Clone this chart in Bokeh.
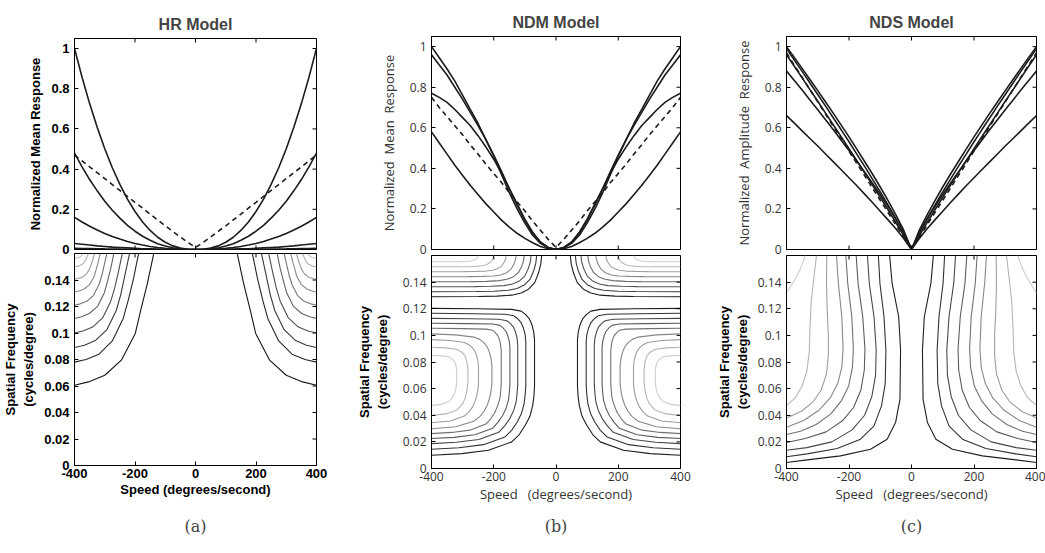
import math
from bokeh.plotting import figure
from bokeh.layouts import row, column
from bokeh.models import Range1d, FixedTicker, ColumnDataSource
from bokeh.embed import file_html
from bokeh.resources import INLINE

# ------------------------------------------------------------------ DATA
# Top row: normalised response vs speed (curves are symmetric about 0; values for speed >= 0)
speed_half = [0, 25, 50, 75, 100, 125, 150, 175, 200, 225, 250, 275, 300, 325, 350, 375, 400]

hr_resp_1 = [0, 0.0013, 0.0068, 0.018, 0.036, 0.061, 0.095, 0.137, 0.189, 0.251, 0.324, 0.407, 0.501, 0.608, 0.726, 0.857, 1.0]
hr_resp_2 = [0, 0.001, 0.003, 0.009, 0.017, 0.029, 0.046, 0.066, 0.091, 0.12, 0.156, 0.195, 0.24, 0.292, 0.348, 0.411, 0.48]
hr_resp_3 = [0, 0, 0.001, 0.003, 0.006, 0.01, 0.015, 0.022, 0.03, 0.04, 0.052, 0.065, 0.08, 0.097, 0.116, 0.137, 0.16]
hr_resp_4 = [0, 0, 0, 0.001, 0.001, 0.002, 0.003, 0.004, 0.006, 0.008, 0.01, 0.012, 0.015, 0.018, 0.022, 0.026, 0.03]
hr_resp_5 = [0, 0, 0, 0, 0, 0, 0.001, 0.001, 0.001, 0.0015, 0.002, 0.0025, 0.003, 0.0036, 0.0044, 0.005, 0.006]
hr_resp_dash = [0.01, 0.035, 0.062, 0.09, 0.118, 0.147, 0.176, 0.206, 0.235, 0.264, 0.294, 0.323, 0.353, 0.382, 0.411, 0.441, 0.47]

ndm_resp_1 = [0, 0.008, 0.03, 0.07, 0.13, 0.2, 0.28, 0.37, 0.46, 0.54, 0.62, 0.69, 0.76, 0.83, 0.89, 0.945, 1.0]
ndm_resp_2 = [0, 0.01, 0.035, 0.08, 0.145, 0.22, 0.3, 0.385, 0.465, 0.54, 0.61, 0.675, 0.74, 0.8, 0.86, 0.91, 0.96]
ndm_resp_3 = [0, 0.01, 0.037, 0.085, 0.15, 0.225, 0.3, 0.375, 0.445, 0.505, 0.56, 0.61, 0.65, 0.69, 0.725, 0.75, 0.77]
ndm_resp_4 = [0, 0.004, 0.015, 0.033, 0.055, 0.08, 0.11, 0.145, 0.185, 0.225, 0.27, 0.315, 0.365, 0.415, 0.47, 0.525, 0.58]
ndm_resp_dash = [0.01, 0.05, 0.095, 0.14, 0.19, 0.235, 0.28, 0.33, 0.375, 0.42, 0.47, 0.515, 0.565, 0.61, 0.655, 0.70, 0.75]

nds_resp_1 = [0, 0.095, 0.171, 0.241, 0.308, 0.372, 0.434, 0.495, 0.555, 0.613, 0.671, 0.727, 0.783, 0.838, 0.893, 0.947, 1.0]
nds_resp_2 = [0, 0.082, 0.152, 0.219, 0.284, 0.347, 0.41, 0.47, 0.531, 0.59, 0.648, 0.707, 0.764, 0.821, 0.878, 0.934, 0.99]
nds_resp_3 = [0, 0.069, 0.133, 0.196, 0.257, 0.318, 0.378, 0.438, 0.497, 0.556, 0.614, 0.672, 0.731, 0.788, 0.846, 0.903, 0.96]
nds_resp_4 = [0, 0.084, 0.150, 0.212, 0.271, 0.327, 0.382, 0.436, 0.488, 0.539, 0.590, 0.640, 0.689, 0.737, 0.786, 0.833, 0.88]
nds_resp_5 = [0, 0.054, 0.102, 0.146, 0.189, 0.232, 0.273, 0.314, 0.354, 0.393, 0.432, 0.471, 0.51, 0.547, 0.585, 0.623, 0.66]
nds_resp_dash = [0.01, 0.061, 0.121, 0.182, 0.243, 0.303, 0.364, 0.424, 0.485, 0.546, 0.606, 0.667, 0.728, 0.788, 0.849, 0.909, 0.97]

# Bottom row: iso-response contours (left half, speed < 0; mirrored for speed > 0)
hr_contours = [
    ([-138, -159, -181, -199, -245, -300, -354, -400], [0.16, 0.1375, 0.1173, 0.0997, 0.0795, 0.0681, 0.0631, 0.0606]),
    ([-188, -205, -222, -239, -275, -319, -362, -400], [0.16, 0.141, 0.125, 0.111, 0.094, 0.084, 0.080, 0.078]),
    ([-218, -233, -247, -262, -293, -331, -367, -400], [0.16, 0.144, 0.129, 0.117, 0.1025, 0.0943, 0.0907, 0.089]),
    ([-242, -255, -267, -280, -307, -340, -372, -400], [0.16, 0.146, 0.134, 0.124, 0.1114, 0.1045, 0.1015, 0.100]),
    ([-270, -280, -291, -301, -323, -351, -377, -400], [0.16, 0.1487, 0.139, 0.1306, 0.1203, 0.1147, 0.1122, 0.111]),
    ([-293, -302, -310, -319, -337, -359, -381, -400], [0.16, 0.151, 0.1432, 0.1366, 0.1284, 0.1239, 0.122, 0.121]),
    ([-315, -322, -329, -335, -350, -368, -385, -400], [0.16, 0.1533, 0.1475, 0.1426, 0.1365, 0.1332, 0.1317, 0.131]),
    ([-334, -339, -345, -350, -361, -375, -388, -400], [0.16, 0.1555, 0.1517, 0.1484, 0.1443, 0.1421, 0.1411, 0.1406]),
    ([-354, -358, -365, -373, -386, -400], [0.16, 0.1577, 0.154, 0.152, 0.1505, 0.150]),
    ([-372, -376, -383, -392, -400], [0.16, 0.1585, 0.1572, 0.1567, 0.1565]),
]
hr_colors = ["#151515", "#262626", "#383838", "#4c4c4c", "#606060", "#747474", "#888888", "#9c9c9c", "#b0b0b0", "#c6c6c6"]

ndm_upper_contours = [
    ([-46, -49, -56, -68, -88, -112, -142, -190, -250, -400], [0.16, 0.1535, 0.147, 0.1398, 0.1347, 0.1318, 0.1302, 0.1295, 0.1292, 0.129]),
    ([-62, -64.9, -71.5, -83, -102, -125, -153.6, -199.6, -256.7, -400], [0.16, 0.1543, 0.1486, 0.1423, 0.1378, 0.1352, 0.1339, 0.1332, 0.1330, 0.1328]),
    ([-80, -82.7, -89, -99.8, -118, -139.5, -166.7, -210, -264, -400], [0.16, 0.1551, 0.1502, 0.1447, 0.1408, 0.1386, 0.1374, 0.1369, 0.1366, 0.1365]),
    ([-102, -104.5, -110.3, -120.5, -137.5, -157.4, -182.8, -223.3, -273.6, -400], [0.16, 0.1559, 0.1517, 0.1472, 0.1439, 0.1421, 0.1411, 0.1406, 0.1404, 0.1403]),
    ([-128, -130.3, -135.6, -144.9, -160.4, -178.6, -201.7, -238.7, -284.7, -400], [0.16, 0.1566, 0.1533, 0.1496, 0.1469, 0.1454, 0.1446, 0.1443, 0.1441, 0.144]),
    ([-160, -162, -166.7, -174.9, -188.6, -204.6, -225, -257.7, -298.2, -400], [0.16, 0.1574, 0.1549, 0.152, 0.15, 0.1489, 0.1483, 0.148, 0.1479, 0.1478]),
    ([-200, -201.7, -205.6, -212.4, -223.8, -237.2, -254.2, -281.4, -315.2, -400], [0.16, 0.1582, 0.1564, 0.1545, 0.1531, 0.1523, 0.1518, 0.1516, 0.1515, 0.1515]),
    ([-250, -251.3, -254.2, -259.3, -267.9, -277.9, -290.7, -311.1, -336.4, -400], [0.16, 0.159, 0.158, 0.1569, 0.1562, 0.1557, 0.1555, 0.1554, 0.1553, 0.1553]),
]
ndm_upper_colors = ["#1e1e1e", "#3c3c3c", "#555555", "#6e6e6e", "#878787", "#a0a0a0", "#b9b9b9", "#d0d0d0"]

ndm_lower_contours = [
    ([-400, -250, -142, -112, -99, -86, -78, -72, -69, -69, -71, -75, -84, -99, -118, -142, -217, -303, -400],
     [0.1203, 0.120, 0.1195, 0.1182, 0.116, 0.1125, 0.1085, 0.103, 0.097, 0.062, 0.054, 0.047, 0.039, 0.0325, 0.0255, 0.020, 0.0137, 0.0112, 0.010]),
    ([-400, -264, -164, -136, -124, -112, -105, -99, -97, -97, -99, -102.5, -111, -124, -142, -164, -233, -312, -400],
     [0.1166, 0.1163, 0.1159, 0.1148, 0.1127, 0.1095, 0.1058, 0.1005, 0.0950, 0.0626, 0.0555, 0.0486, 0.0414, 0.0351, 0.0288, 0.0237, 0.0179, 0.0156, 0.0145]),
    ([-400, -275, -184, -158, -148, -137, -130.5, -125, -123, -123, -125, -128, -136, -148, -165, -184, -248, -320, -400],
     [0.1128, 0.1125, 0.1121, 0.1110, 0.1092, 0.1063, 0.1028, 0.0980, 0.0928, 0.0630, 0.0565, 0.0501, 0.0436, 0.0377, 0.0320, 0.0272, 0.0218, 0.0197, 0.0187]),
    ([-400, -287, -203, -180, -171, -161, -155, -150, -148, -148, -150, -152.5, -160, -171, -186, -203, -261, -327, -400],
     [0.1091, 0.1088, 0.1085, 0.1075, 0.1058, 0.1031, 0.0999, 0.0955, 0.0908, 0.0634, 0.0575, 0.0515, 0.0455, 0.0400, 0.0348, 0.0303, 0.0254, 0.0234, 0.0225]),
    ([-400, -299, -225, -204, -196, -187, -182, -178, -176, -176, -177.5, -180, -187, -196, -209, -225, -277, -335, -400],
     [0.1053, 0.1051, 0.1047, 0.1038, 0.1023, 0.0998, 0.0970, 0.0930, 0.0886, 0.0637, 0.0583, 0.0528, 0.0474, 0.0423, 0.0375, 0.0334, 0.0288, 0.0271, 0.0262]),
    ([-400, -322, -264, -245, -231, -221, -214, -209, -206, -206, -209, -214, -221, -231, -245, -264, -322, -400],
     [0.1011, 0.1004, 0.0987, 0.0970, 0.0944, 0.0913, 0.0876, 0.0828, 0.0775, 0.0636, 0.0578, 0.0524, 0.0475, 0.0430, 0.0390, 0.0355, 0.0314, 0.0299]),
    ([-400, -340, -294, -280, -269, -261, -255, -251, -249, -249, -251, -255, -261, -269, -280, -294, -340, -400],
     [0.0968, 0.0962, 0.0947, 0.0930, 0.0909, 0.0882, 0.0850, 0.0808, 0.0762, 0.0641, 0.0590, 0.0542, 0.0498, 0.0459, 0.0425, 0.0394, 0.0357, 0.0344]),
    ([-400, -353, -318, -307, -298, -292, -288, -285, -283, -283, -285, -288, -292, -298, -307, -318, -353, -400],
     [0.0911, 0.0906, 0.0894, 0.0881, 0.0864, 0.0842, 0.0816, 0.0782, 0.0745, 0.0646, 0.0604, 0.0564, 0.0528, 0.0495, 0.0466, 0.0440, 0.0410, 0.0399]),
    ([-400, -368, -343, -336, -330, -325, -322, -320, -319, -319, -320, -322, -325, -330, -336, -343, -368, -400],
     [0.0849, 0.0846, 0.0837, 0.0827, 0.0814, 0.0798, 0.0779, 0.0754, 0.0727, 0.0654, 0.0624, 0.0594, 0.0568, 0.0544, 0.0523, 0.0504, 0.0482, 0.0474]),
]
ndm_lower_colors = ["#1e1e1e", "#333333", "#474747", "#5c5c5c", "#717171", "#878787", "#9d9d9d", "#b5b5b5", "#cdcdcd"]

nds_contours = [
    ([-70, -62, -41, -35, -37, -51, -78, -131, -227, -334, -400], [0.16, 0.139, 0.114, 0.089, 0.052, 0.0345, 0.022, 0.0145, 0.0095, 0.0065, 0.0045]),
    ([-106, -101, -88, -82, -84, -96, -120, -163, -238, -334, -400], [0.16, 0.139, 0.114, 0.089, 0.064, 0.047, 0.032, 0.022, 0.015, 0.011, 0.0088]),
    ([-141, -135, -120, -113, -115, -127, -150, -190, -255, -335, -400], [0.16, 0.139, 0.114, 0.089, 0.07, 0.054, 0.040, 0.029, 0.020, 0.0157, 0.0137]),
    ([-177, -171, -156, -149, -151, -162, -185, -220, -273, -340, -400], [0.16, 0.139, 0.114, 0.09, 0.074, 0.059, 0.046, 0.036, 0.0275, 0.0225, 0.0195]),
    ([-210, -204, -191, -186, -189, -201, -224, -258, -305, -355, -400], [0.16, 0.139, 0.114, 0.09, 0.076, 0.062, 0.051, 0.041, 0.033, 0.028, 0.0255]),
    ([-240, -234, -223, -219, -223, -236, -260, -295, -345, -400], [0.16, 0.139, 0.114, 0.09, 0.076, 0.064, 0.053, 0.044, 0.036, 0.031]),
    ([-271, -272, -270, -266, -266, -272, -289, -315, -352, -400], [0.16, 0.14, 0.12, 0.1, 0.085, 0.071, 0.059, 0.050, 0.043, 0.038]),
    ([-304, -313, -321, -325, -327, -335, -350, -372, -400], [0.16, 0.142, 0.125, 0.105, 0.088, 0.073, 0.062, 0.053, 0.0474]),
    ([-340, -352, -366, -383, -400], [0.16, 0.152, 0.145, 0.138, 0.132]),
]
nds_colors = ["#1e1e1e", "#333333", "#474747", "#5c5c5c", "#717171", "#878787", "#9d9d9d", "#b5b5b5", "#cdcdcd"]

# Axis extents and ticks
SPEED_MIN, SPEED_MAX = -400, 400
RESP_MAX = 1.05
SF_MAX = 0.16
speed_ticks = [-400, -200, 0, 200, 400]
speed_tick_labels = ["-400", "-200", "0", "200", "400"]
resp_ticks = [0, 0.2, 0.4, 0.6, 0.8, 1]
resp_tick_labels = ["0", "0.2", "0.4", "0.6", "0.8", "1"]
sf_ticks = [0, 0.02, 0.04, 0.06, 0.08, 0.1, 0.12, 0.14]
sf_tick_labels = ["0", "0.02", "0.04", "0.06", "0.08", "0.1", "0.12", "0.14"]

# ------------------------------------------------------------------ STYLE / HELPERS
BOLD = dict(font="Liberation Sans", size="13px", style="bold", color="black")
THIN = dict(font="Open Sans", size="12px", style="normal", color="#333333")
THIN_LABEL = dict(font="Open Sans", size="13px", style="normal", color="#333333")
CURVE_COLOR = "#1c1c1c"
SP = "\u00a0"


def full_curve(half_x, half_y):
    xs = [-v for v in reversed(half_x)] + list(half_x[1:])
    ys = list(reversed(half_y)) + list(half_y[1:])
    return xs, ys


def setup_axis(ax, ticks, labels, st, standoff=4):
    ax.ticker = FixedTicker(ticks=ticks)
    ax.minor_tick_line_color = None
    ax.major_tick_in = 4
    ax.major_tick_out = 0
    ax.axis_line_color = "black"
    ax.major_tick_line_color = "black"
    ax.major_label_overrides = {t: l for t, l in zip(ticks, labels)}
    ax.major_label_text_font = st["font"]
    ax.major_label_text_font_size = st["size"]
    ax.major_label_text_font_style = st["style"]
    ax.major_label_text_color = st["color"]
    ax.major_label_standoff = standoff


def set_axis_label(ax, text, st, standoff):
    ax.axis_label = text
    ax.axis_label_text_font = st["font"]
    ax.axis_label_text_font_size = st["size"]
    ax.axis_label_text_font_style = st["style"]
    ax.axis_label_text_color = st["color"]
    ax.axis_label_standoff = standoff


def edge_ticks(p, xticks, yticks, y_top, bottom=True, right=True, top=True):
    # inward tick marks on the unlabeled edges (half of each dash lies inside the frame)
    if right:
        p.scatter([SPEED_MAX] * len(yticks), yticks, marker="dash", size=8, line_color="black", line_width=1)
    if top:
        p.scatter(xticks, [y_top] * len(xticks), marker="dash", size=8, angle=math.pi / 2,
                  line_color="black", line_width=1)
    if bottom:
        p.scatter(xticks, [0] * len(xticks), marker="dash", size=8, angle=math.pi / 2,
                  line_color="black", line_width=1)


def make_fig(width, height, left, right, top, bottom, y_end, margin=None):
    kw = {}
    if margin is not None:
        kw["margin"] = margin
    p = figure(width=width, height=height, x_range=Range1d(SPEED_MIN, SPEED_MAX), y_range=Range1d(0, y_end),
               output_backend="svg", toolbar_location=None,
               min_border_left=left, min_border_right=right,
               min_border_top=top, min_border_bottom=bottom, **kw)
    p.grid.visible = False
    p.outline_line_color = "black"
    p.outline_line_width = 1
    return p


def top_panel(width, height, left, right, top, bottom, title, ylabel, tick_st, lab_st, lab_standoff,
              curves, dashed):
    p = make_fig(width, height, left, right, top, bottom, RESP_MAX)
    p.title.text = title
    p.title.align = "center"
    p.title.text_font = "Liberation Sans"
    p.title.text_font_size = "16px"
    p.title.text_font_style = "bold"
    p.title.standoff = 12
    setup_axis(p.yaxis[0], resp_ticks, resp_tick_labels, tick_st, standoff=5)
    set_axis_label(p.yaxis[0], ylabel, lab_st, lab_standoff)
    p.xaxis.visible = False
    for vals in curves:
        xs, ys = full_curve(speed_half, vals)
        p.line(xs, ys, line_color=CURVE_COLOR, line_width=1.6)
    xs, ys = full_curve(speed_half, dashed)
    p.line(xs, ys, line_color=CURVE_COLOR, line_width=1.6, line_dash="5 4")
    edge_ticks(p, speed_ticks, resp_ticks, RESP_MAX)
    return p


def bottom_panel(width, height, left, right, top, bottom, overlap, tick_st, xlab_st, xlabel, ylab_standoff, groups):
    p = make_fig(width, height, left, right, top, bottom, SF_MAX, margin=(-overlap, 0, 0, 0))
    p.border_fill_color = None
    setup_axis(p.yaxis[0], sf_ticks, sf_tick_labels, tick_st, standoff=5)
    set_axis_label(p.yaxis[0], "Spatial Frequency\n(cycles/degree)", BOLD, ylab_standoff)
    setup_axis(p.xaxis[0], speed_ticks, speed_tick_labels, tick_st, standoff=3)
    set_axis_label(p.xaxis[0], xlabel, xlab_st, 1)
    xs_all, ys_all, cols = [], [], []
    for contours, colors in groups:
        for (cx, cy), c in zip(contours, colors):
            xs_all.append(list(cx)); ys_all.append(list(cy)); cols.append(c)
            xs_all.append([-v for v in cx]); ys_all.append(list(cy)); cols.append(c)
    src = ColumnDataSource(dict(xs=xs_all, ys=ys_all, color=cols))
    p.multi_line(xs="xs", ys="ys", line_color="color", line_width=1.1, source=src)
    edge_ticks(p, speed_ticks, sf_ticks, SF_MAX, bottom=False)
    return p


def caption(width, left, right, text):
    p = figure(width=width, height=48, x_range=Range1d(0, 1), y_range=Range1d(0, 1),
               output_backend="svg", toolbar_location=None,
               min_border_left=left, min_border_right=right, min_border_top=30, min_border_bottom=0)
    p.axis.visible = False
    p.grid.visible = False
    p.outline_line_color = None
    p.title.text = text
    p.title.align = "center"
    p.title.text_font = "DejaVu Serif"
    p.title.text_font_size = "16px"
    p.title.text_font_style = "normal"
    p.title.standoff = 0
    return p


# ------------------------------------------------------------------ PANELS
a_top = top_panel(350, 258, 69, 34, 38, 9, "HR Model", "Normalized Mean Response", BOLD, BOLD, 5,
                  [hr_resp_1, hr_resp_2, hr_resp_3, hr_resp_4, hr_resp_5], hr_resp_dash)
a_bot = bottom_panel(350, 254, 69, 34, 2, 40, 7, BOLD, BOLD, "Speed (degrees/second)", 5,
                     [(hr_contours, hr_colors)])
a_cap = caption(350, 69, 34, "(a)")

b_top = top_panel(350, 258, 81, 20, 36, 9, "NDM Model", f"Normalized{SP}{SP}Mean{SP}{SP}Response", THIN, THIN_LABEL, 9,
                  [ndm_resp_1, ndm_resp_2, ndm_resp_3, ndm_resp_4], ndm_resp_dash)
b_bot = bottom_panel(350, 253, 81, 20, 3, 36, 6, THIN, THIN_LABEL, f"Speed{SP}{SP}{SP}(degrees/second)", 10,
                     [(ndm_upper_contours, ndm_upper_colors), (ndm_lower_contours, ndm_lower_colors)])
b_cap = caption(350, 81, 20, "(b)")

c_top = top_panel(345, 258, 86, 9, 36, 9, "NDS Model", f"Normalized{SP}{SP}Amplitude{SP}{SP}Response", THIN, THIN_LABEL, 9,
                  [nds_resp_1, nds_resp_2, nds_resp_3, nds_resp_4, nds_resp_5], nds_resp_dash)
c_bot = bottom_panel(345, 253, 86, 9, 3, 36, 6, THIN, THIN_LABEL, f"Speed{SP}{SP}{SP}(degrees/second)", 5,
                     [(nds_contours, nds_colors)])
c_cap = caption(345, 86, 9, "(c)")

layout = row(column(a_top, a_bot, a_cap), column(b_top, b_bot, b_cap), column(c_top, c_bot, c_cap))

open("out.html", "w").write(file_html(layout, INLINE))
